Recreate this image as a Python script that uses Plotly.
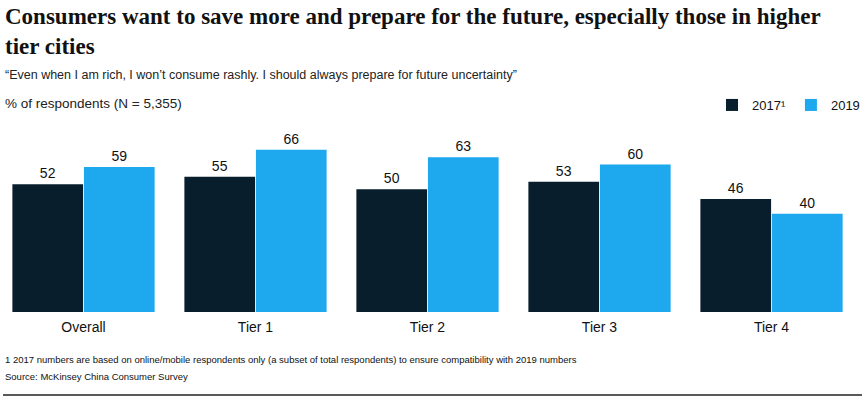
import plotly.graph_objects as go

categories = ["Overall", "Tier 1", "Tier 2", "Tier 3", "Tier 4"]
values_2017 = [52, 55, 50, 53, 46]
values_2019 = [59, 66, 63, 60, 40]
series_names = ["2017¹", "2019"]
colors = ["#081e2c", "#1ea8ee"]

title = "Consumers want to save more and prepare for the future, especially those in higher<br>tier cities"
subtitle = "“Even when I am rich, I won’t consume rashly. I should always prepare for future uncertainty”"
unit_label = "% of respondents (N = 5,355)"
footnote = "1 2017 numbers are based on online/mobile respondents only (a subset of total respondents) to ensure compatibility with 2019 numbers"
source = "Source: McKinsey China Consumer Survey"

W, H = 868, 399
ML, MR, MT, MB = 0, 11, 140, 87
PW, PH = W - ML - MR, H - MT - MB

def px(x):
    return (x - ML) / PW

def py(y):
    return (H - MB - y) / PH

sans = "Liberation Sans, Arial, sans-serif"

fig = go.Figure()
for name, vals, col in zip(series_names, [values_2017, values_2019], colors):
    fig.add_trace(go.Bar(
        x=categories, y=vals, name=name,
        marker=dict(color=col, line=dict(width=0)),
        text=[str(v) for v in vals], textposition="outside",
        textfont=dict(family=sans, size=14, color="#111111"),
        cliponaxis=False,
    ))

fig.update_layout(
    width=W, height=H,
    margin=dict(l=ML, r=MR, t=MT, b=MB),
    paper_bgcolor="white", plot_bgcolor="white",
    barmode="group", bargap=0.168, bargroupgap=0.012,
    showlegend=True,
    legend=dict(orientation="h", x=px(865), xanchor="right", y=py(105), yanchor="middle",
                font=dict(family=sans, size=13, color="#111111"),
                itemwidth=30, traceorder="normal", bgcolor="rgba(0,0,0,0)"),
    xaxis=dict(showgrid=False, showline=False, zeroline=False, ticks="",
               range=[-0.4855, 4.497],
               ticklabelstandoff=5,
               tickfont=dict(family=sans, size=14, color="#111111")),
    yaxis=dict(range=[0, 70], visible=False),
    font=dict(family=sans, color="#111111"),
)

texts = [
    ("<b>" + title + "</b>", 2, "top", dict(family="Liberation Serif, Times New Roman, serif", size=23, color="#111111")),
    (subtitle, 75, "middle", dict(family=sans, size=12.5, color="#222222")),
    (unit_label, 103, "middle", dict(family=sans, size=13.5, color="#222222")),
    (footnote, 359, "middle", dict(family=sans, size=9.5, color="#111111")),
    (source, 376, "middle", dict(family=sans, size=9.5, color="#111111")),
]
for txt, ypix, anchor, fnt in texts:
    fig.add_annotation(text=txt, xref="paper", yref="paper", x=px(3), y=py(ypix),
                       xanchor="left", yanchor=anchor, align="left", showarrow=False,
                       font=fnt)

fig.add_shape(type="line", xref="paper", yref="paper",
              x0=px(3), x1=px(862), y0=py(395), y1=py(395),
              line=dict(color="#222222", width=1.5))

fig.write_html("out.html", config={"displayModeBar": False},
               post_script="document.body.style.margin='0';document.body.style.overflow='hidden';")
